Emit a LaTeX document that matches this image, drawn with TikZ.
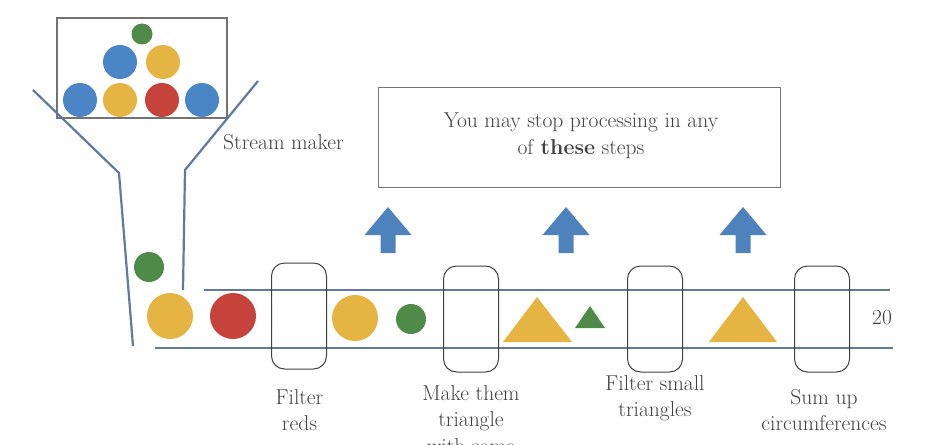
\documentclass[tikz,border=0pt]{standalone}
\usepackage{fontspec}
\usetikzlibrary{shapes.geometric}
\definecolor{ballblue}{HTML}{4A86C6}
\definecolor{ballyellow}{HTML}{E6B443}
\definecolor{ballred}{HTML}{C5433B}
\definecolor{ballgreen}{HTML}{4F8A48}
\definecolor{rail}{HTML}{6079A2}
\definecolor{arrowblue}{HTML}{4E82BC}
\definecolor{txt}{HTML}{404040}
\tikzset{
  ball/.style={circle, inner sep=0pt, minimum size=#1},
  filterbox/.style={draw=black!75, line width=1pt, rounded corners=13pt,
    minimum width=55pt, minimum height=106pt, inner sep=0pt},
  railline/.style={draw=rail, line width=2.6pt},
  funnelline/.style={draw=rail, line width=2.2pt},
  label/.style={text=txt, align=center, font=\fontsize{21.5}{26.5}\selectfont},
  upblock/.style={fill=arrowblue},
}
\begin{document}
\begin{tikzpicture}[x=1pt,y=-1pt]
\useasboundingbox (0,0) rectangle (925,444);

% hopper box and its balls
\node[draw=black!55, line width=1.2pt, minimum width=170pt, minimum height=100pt, inner sep=0pt] (hopper) at (142,68) {};
\node[ball=21pt, fill=ballgreen] (h1) at (142,34) {};
\node[ball=34pt, fill=ballblue] (h2) at (120,62) {};
\node[ball=34pt, fill=ballyellow] (h3) at (163,62) {};
\node[ball=34pt, fill=ballblue] (h4) at (80,100) {};
\node[ball=34pt, fill=ballyellow] (h5) at (120,100) {};
\node[ball=34pt, fill=ballred] (h6) at (162,100) {};
\node[ball=34pt, fill=ballblue] (h7) at (202,100) {};

% funnel walls
\coordinate (fl1) at (33,90);
\coordinate (fl2) at (119,173);
\coordinate (fl3) at (133,346);
\coordinate (fr1) at (258,81);
\coordinate (fr2) at (185,170);
\coordinate (fr3) at (183,290);
\draw[funnelline] (fl1) -- (fl2) -- (fl3);
\draw[funnelline] (fr1) -- (fr2) -- (fr3);
\node[label, anchor=west, inner sep=0pt] (maker) at (223,142) {Stream maker};

% the stream rails
\coordinate (rt1) at (204,290);
\coordinate (rt2) at (890,290);
\coordinate (rb1) at (155,348);
\coordinate (rb2) at (893,348);
\draw[railline] (rt1) -- (rt2);
\draw[railline] (rb1) -- (rb2);

% items in the stream
\node[ball=30pt, fill=ballgreen] (s1) at (149,267) {};
\node[ball=46pt, fill=ballyellow] (s2) at (170,316) {};
\node[ball=46pt, fill=ballred] (s3) at (233,316) {};
\node[ball=46pt, fill=ballyellow] (s4) at (355,318) {};
\node[ball=30pt, fill=ballgreen] (s5) at (411,319) {};
\fill[ballyellow] (503,342) -- (537,297) -- (572,342) -- cycle;
\fill[ballgreen] (575,328) -- (590,306) -- (605,328) -- cycle;
\fill[ballyellow] (709,342) -- (743,297) -- (777,342) -- cycle;
\node[label, anchor=west, inner sep=0pt] (total) at (872,318) {20};

% processing steps
\node[filterbox] (f1) at (299,316) {};
\node[filterbox] (f2) at (471,319) {};
\node[filterbox] (f3) at (655,319) {};
\node[filterbox] (f4) at (822,319) {};
\node[label] (l1) at (299.5,410) {Filter\\reds};
\node[label] (l2) at (471,419.5) {Make them\\triangle\\with some};
\node[label] (l3) at (655,398) {Filter small\\triangles};
\node[label] (l4) at (824,410) {Sum up\\circumferences};

% stop note and its arrows
\node[draw=black!55, line width=1pt, minimum width=402pt, minimum height=100pt, inner sep=0pt] (note) at (579,137) {};
\node[label] (notetext) at (581,136) {You may stop processing in any\\of \textbf{these} steps};
\foreach \c [count=\i] in {388,566,743}{
  \fill[upblock] (\c,207) -- (\c+23.5,235) -- (\c+7.5,235) -- (\c+7.5,253)
    -- (\c-7.5,253) -- (\c-7.5,235) -- (\c-23.5,235) -- cycle;
}
\end{tikzpicture}
\end{document}
